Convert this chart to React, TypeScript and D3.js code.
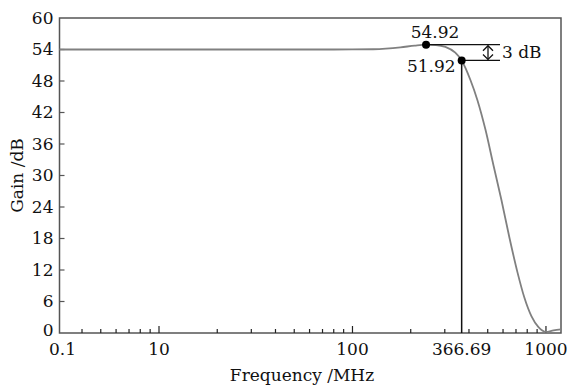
import React, { useEffect, useRef } from 'react';
import * as d3 from 'd3';

// frequency response (MHz, dB)
const freq = [3.06, 30, 80, 128, 177, 210, 240, 270, 302, 340, 366.69, 407, 442, 487, 535, 589, 648, 712, 774, 841, 915, 1000, 1094, 1196];
const gain = [54, 54, 54, 54.05, 54.4, 54.75, 54.92, 54.85, 54.5, 53.4, 51.92, 48.2, 44.4, 38.7, 32.0, 25.3, 18.1, 11.6, 6.7, 3.2, 1.1, 0.2, 0.5, 0.7];

const xTickValues = [3.06, 10, 100, 366.69, 1000];
const xTickLabels = ['0.1', '10', '100', '366.69', '1000'];
const xMinorTicks = [4, 5, 6, 7, 8, 9, 20, 30, 40, 50, 60, 70, 80, 90, 200, 300, 400, 500, 600, 700, 800, 900];
const yTicks = [0, 6, 12, 18, 24, 30, 36, 42, 48, 54, 60];

const peak = { f: 240, g: 54.92, label: '54.92' };
const cutoff = { f: 366.69, g: 51.92, label: '51.92' };

function App() {
  const svgRef = useRef(null);

  useEffect(() => {
    document.body.style.margin = '0';
    const svg = d3.select(svgRef.current);
    svg.selectAll('*').remove();

    const left = 59.5, right = 561, top = 18, bottom = 333;
    const font = '"DejaVu Serif", serif';
    const fs = 17;
    const axisColor = '#555';

    const x = d3.scaleLog().domain([3.06, 1196]).range([left, right]);
    const y = d3.scaleLinear().domain([0, 60]).range([bottom, top]);

    // frame
    svg.append('rect')
      .attr('x', left).attr('y', top)
      .attr('width', right - left).attr('height', bottom - top)
      .attr('fill', 'none').attr('stroke', axisColor).attr('stroke-width', 1.5);

    // y ticks (inside)
    yTicks.forEach((t) => {
      if (t > 0 && t < 60) {
        svg.append('line')
          .attr('x1', left).attr('x2', left + 5)
          .attr('y1', y(t)).attr('y2', y(t))
          .attr('stroke', axisColor).attr('stroke-width', 1.2);
      }
      svg.append('text')
        .attr('x', left - 6).attr('y', y(t) - (t === 0 ? 3 : 0))
        .attr('dy', '0.35em')
        .attr('text-anchor', 'end')
        .attr('font-family', font).attr('font-size', fs)
        .attr('fill', '#111')
        .text(t);
    });

    // x minor ticks
    xMinorTicks.forEach((t) => {
      svg.append('line')
        .attr('x1', x(t)).attr('x2', x(t))
        .attr('y1', bottom).attr('y2', bottom - 4)
        .attr('stroke', '#222').attr('stroke-width', 1.2);
    });
    [10, 100, 1000].forEach((t) => {
      svg.append('line')
        .attr('x1', x(t)).attr('x2', x(t))
        .attr('y1', bottom).attr('y2', bottom - 7)
        .attr('stroke', '#222').attr('stroke-width', 1.2);
    });

    xTickValues.forEach((t, i) => {
      svg.append('text')
        .attr('x', x(t) + (i === 0 ? 3 : 0)).attr('y', bottom + 22)
        .attr('text-anchor', 'middle')
        .attr('font-family', font).attr('font-size', fs)
        .attr('fill', '#111')
        .text(xTickLabels[i]);
    });

    // axis titles
    svg.append('text')
      .attr('x', 302).attr('y', 381)
      .attr('text-anchor', 'middle')
      .attr('font-family', font).attr('font-size', fs)
      .attr('fill', '#111')
      .text('Frequency /MHz');

    svg.append('text')
      .attr('transform', `translate(23,${(top + bottom) / 2}) rotate(-90)`)
      .attr('text-anchor', 'middle')
      .attr('font-family', font).attr('font-size', fs)
      .attr('fill', '#111')
      .text('Gain /dB');

    // response curve
    const line = d3.line()
      .x((d) => x(d[0]))
      .y((d) => y(d[1]))
      .curve(d3.curveMonotoneX);

    svg.append('path')
      .datum(freq.map((f, i) => [f, gain[i]]))
      .attr('d', line)
      .attr('fill', 'none')
      .attr('stroke', '#808080')
      .attr('stroke-width', 1.8);

    // annotation lines
    const annEnd = 500;
    svg.append('line')
      .attr('x1', x(peak.f)).attr('x2', annEnd)
      .attr('y1', y(peak.g)).attr('y2', y(peak.g))
      .attr('stroke', '#111').attr('stroke-width', 1.3);
    svg.append('line')
      .attr('x1', x(cutoff.f)).attr('x2', annEnd)
      .attr('y1', y(cutoff.g)).attr('y2', y(cutoff.g))
      .attr('stroke', '#111').attr('stroke-width', 1.3);
    svg.append('line')
      .attr('x1', x(cutoff.f)).attr('x2', x(cutoff.f))
      .attr('y1', y(cutoff.g)).attr('y2', bottom)
      .attr('stroke', '#111').attr('stroke-width', 1.5);

    // double arrow
    const ax = 488;
    const y1 = y(peak.g) + 1, y2 = y(cutoff.g) - 1;
    svg.append('line')
      .attr('x1', ax).attr('x2', ax).attr('y1', y1).attr('y2', y2)
      .attr('stroke', '#111').attr('stroke-width', 1.3);
    svg.append('path')
      .attr('d', `M${ax - 5},${y1 + 5}L${ax},${y1}L${ax + 5},${y1 + 5}M${ax - 5},${y2 - 5}L${ax},${y2}L${ax + 5},${y2 - 5}`)
      .attr('fill', 'none').attr('stroke', '#111').attr('stroke-width', 1.3);

    svg.append('text')
      .attr('x', annEnd + 2).attr('y', (y1 + y2) / 2)
      .attr('dy', '0.35em')
      .attr('font-family', font).attr('font-size', fs)
      .attr('fill', '#111')
      .text('3 dB');

    // points
    [peak, cutoff].forEach((p) => {
      svg.append('circle')
        .attr('cx', x(p.f)).attr('cy', y(p.g)).attr('r', 4)
        .attr('fill', '#000');
    });

    svg.append('text')
      .attr('x', x(peak.f) + 9).attr('y', y(peak.g) - 7)
      .attr('text-anchor', 'middle')
      .attr('font-family', font).attr('font-size', fs)
      .attr('fill', '#111')
      .text(peak.label);

    svg.append('text')
      .attr('x', x(cutoff.f) - 6).attr('y', y(cutoff.g) + 12)
      .attr('text-anchor', 'end')
      .attr('font-family', font).attr('font-size', fs)
      .attr('fill', '#111')
      .text(cutoff.label);
  }, []);

  return <svg ref={svgRef} width={567} height={387} style={{ display: 'block', background: '#fff' }}></svg>;
}

export default App;
